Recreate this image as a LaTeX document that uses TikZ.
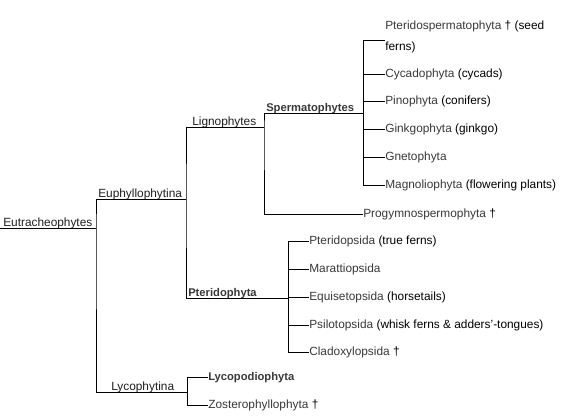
\documentclass[tikz,border=0pt]{standalone}
\usepackage{fontspec}
\setmainfont{Liberation Sans}
\definecolor{taxon}{HTML}{383838}
\definecolor{clade}{HTML}{1E1E1E}
\tikzset{
	tree/.style={line width=0.75pt},
	leaf/.style={anchor=west, inner sep=0pt, text height=6.9pt, text depth=1.9pt, font=\fontsize{8.9}{11.6}\selectfont, text=taxon},
	cladelbl/.style={anchor=base west, inner sep=0pt, font=\fontsize{8.9}{11.6}\selectfont, text=clade},
	boldlbl/.style={cladelbl, font=\fontsize{8.4}{11.6}\selectfont\bfseries, text=taxon}
}
\newcommand{\vern}[1]{\textcolor{black}{#1}}
\begin{document}
\begin{tikzpicture}[x=0.75pt, y=-0.75pt]
			\useasboundingbox (0,0) rectangle (567,418);
			% branch points
			\coordinate (root) at (0,228);
			\coordinate (eutra) at (96,228);
			\coordinate (euphy) at (186,199);
			\coordinate (ligno) at (264,127);
			\coordinate (sperm) at (363,113);
			\coordinate (pteri) at (288,298);
			\coordinate (lyco) at (187,392);
			\coordinate (pteridoTip) at (385,40);
			% clade labels
			\node[cladelbl] (lEutra) at (3,226) {Eutracheophytes};
			\node[cladelbl] (lEuphy) at (98,197) {Euphyllophytina};
			\node[cladelbl] (lLigno) at (192,125) {Lignophytes};
			\node[boldlbl] (lSperm) at (266,111) {Spermatophytes};
			\node[boldlbl] (lPteri) at (188,296) {Pteridophyta};
			\node[cladelbl] (lLyco) at (111,390) {Lycophytina};
			% leaves
			\node[anchor=base west, inner sep=0pt, align=left, font=\fontsize{8.9}{15.5pt}\selectfont, text=taxon] (pterido) at (385,50) {Pteridospermatophyta \vern{† (seed}\\\vern{ferns)}};
			\node[leaf] (cycado) at (385,74) {Cycadophyta \vern{(cycads)}};
			\node[leaf] (pino) at (385,101) {Pinophyta \vern{(conifers)}};
			\node[leaf] (ginkgo) at (385,129) {Ginkgophyta \vern{(ginkgo)}};
			\node[leaf] (gneto) at (385,157) {Gnetophyta};
			\node[leaf] (magno) at (385,185) {Magnoliophyta \vern{(flowering plants)}};
			\node[leaf] (progym) at (363,214) {Progymnospermophyta \vern{†}};
			\node[leaf] (pteridop) at (309,241) {Pteridopsida \vern{(true ferns)}};
			\node[leaf] (maratt) at (309,269) {Marattiopsida};
			\node[leaf] (equis) at (309,297) {Equisetopsida \vern{(horsetails)}};
			\node[leaf] (psilo) at (309,325) {Psilotopsida \vern{(whisk ferns \& adders'-tongues)}};
			\node[leaf] (clado) at (309,352) {Cladoxylopsida \vern{†}};
			\node[leaf, font=\fontsize{8.4}{11.6}\selectfont\bfseries] (lycopod) at (208,377) {Lycopodiophyta};
			\node[leaf] (zoster) at (208,405) {Zosterophyllophyta \vern{†}};
			% tree
			\draw[tree] (root) -- (eutra);
			\draw[tree] (euphy) -| (eutra) |- (lyco);
			\draw[tree] (ligno) -| (euphy) |- (pteri);
			\draw[tree] (sperm) -| (ligno) |- (progym.west);
			\draw[tree] (sperm) |- (pteridoTip);
			\foreach \t in {cycado,pino,ginkgo,gneto,magno}
				\draw[tree] (sperm) |- (\t.west);
			\foreach \t in {pteridop,maratt,equis,psilo,clado}
				\draw[tree] (pteri) |- (\t.west);
			\draw[tree] (lyco) |- (lycopod.west);
			\draw[tree] (lyco) |- (zoster.west);
		\end{tikzpicture}
\end{document}
